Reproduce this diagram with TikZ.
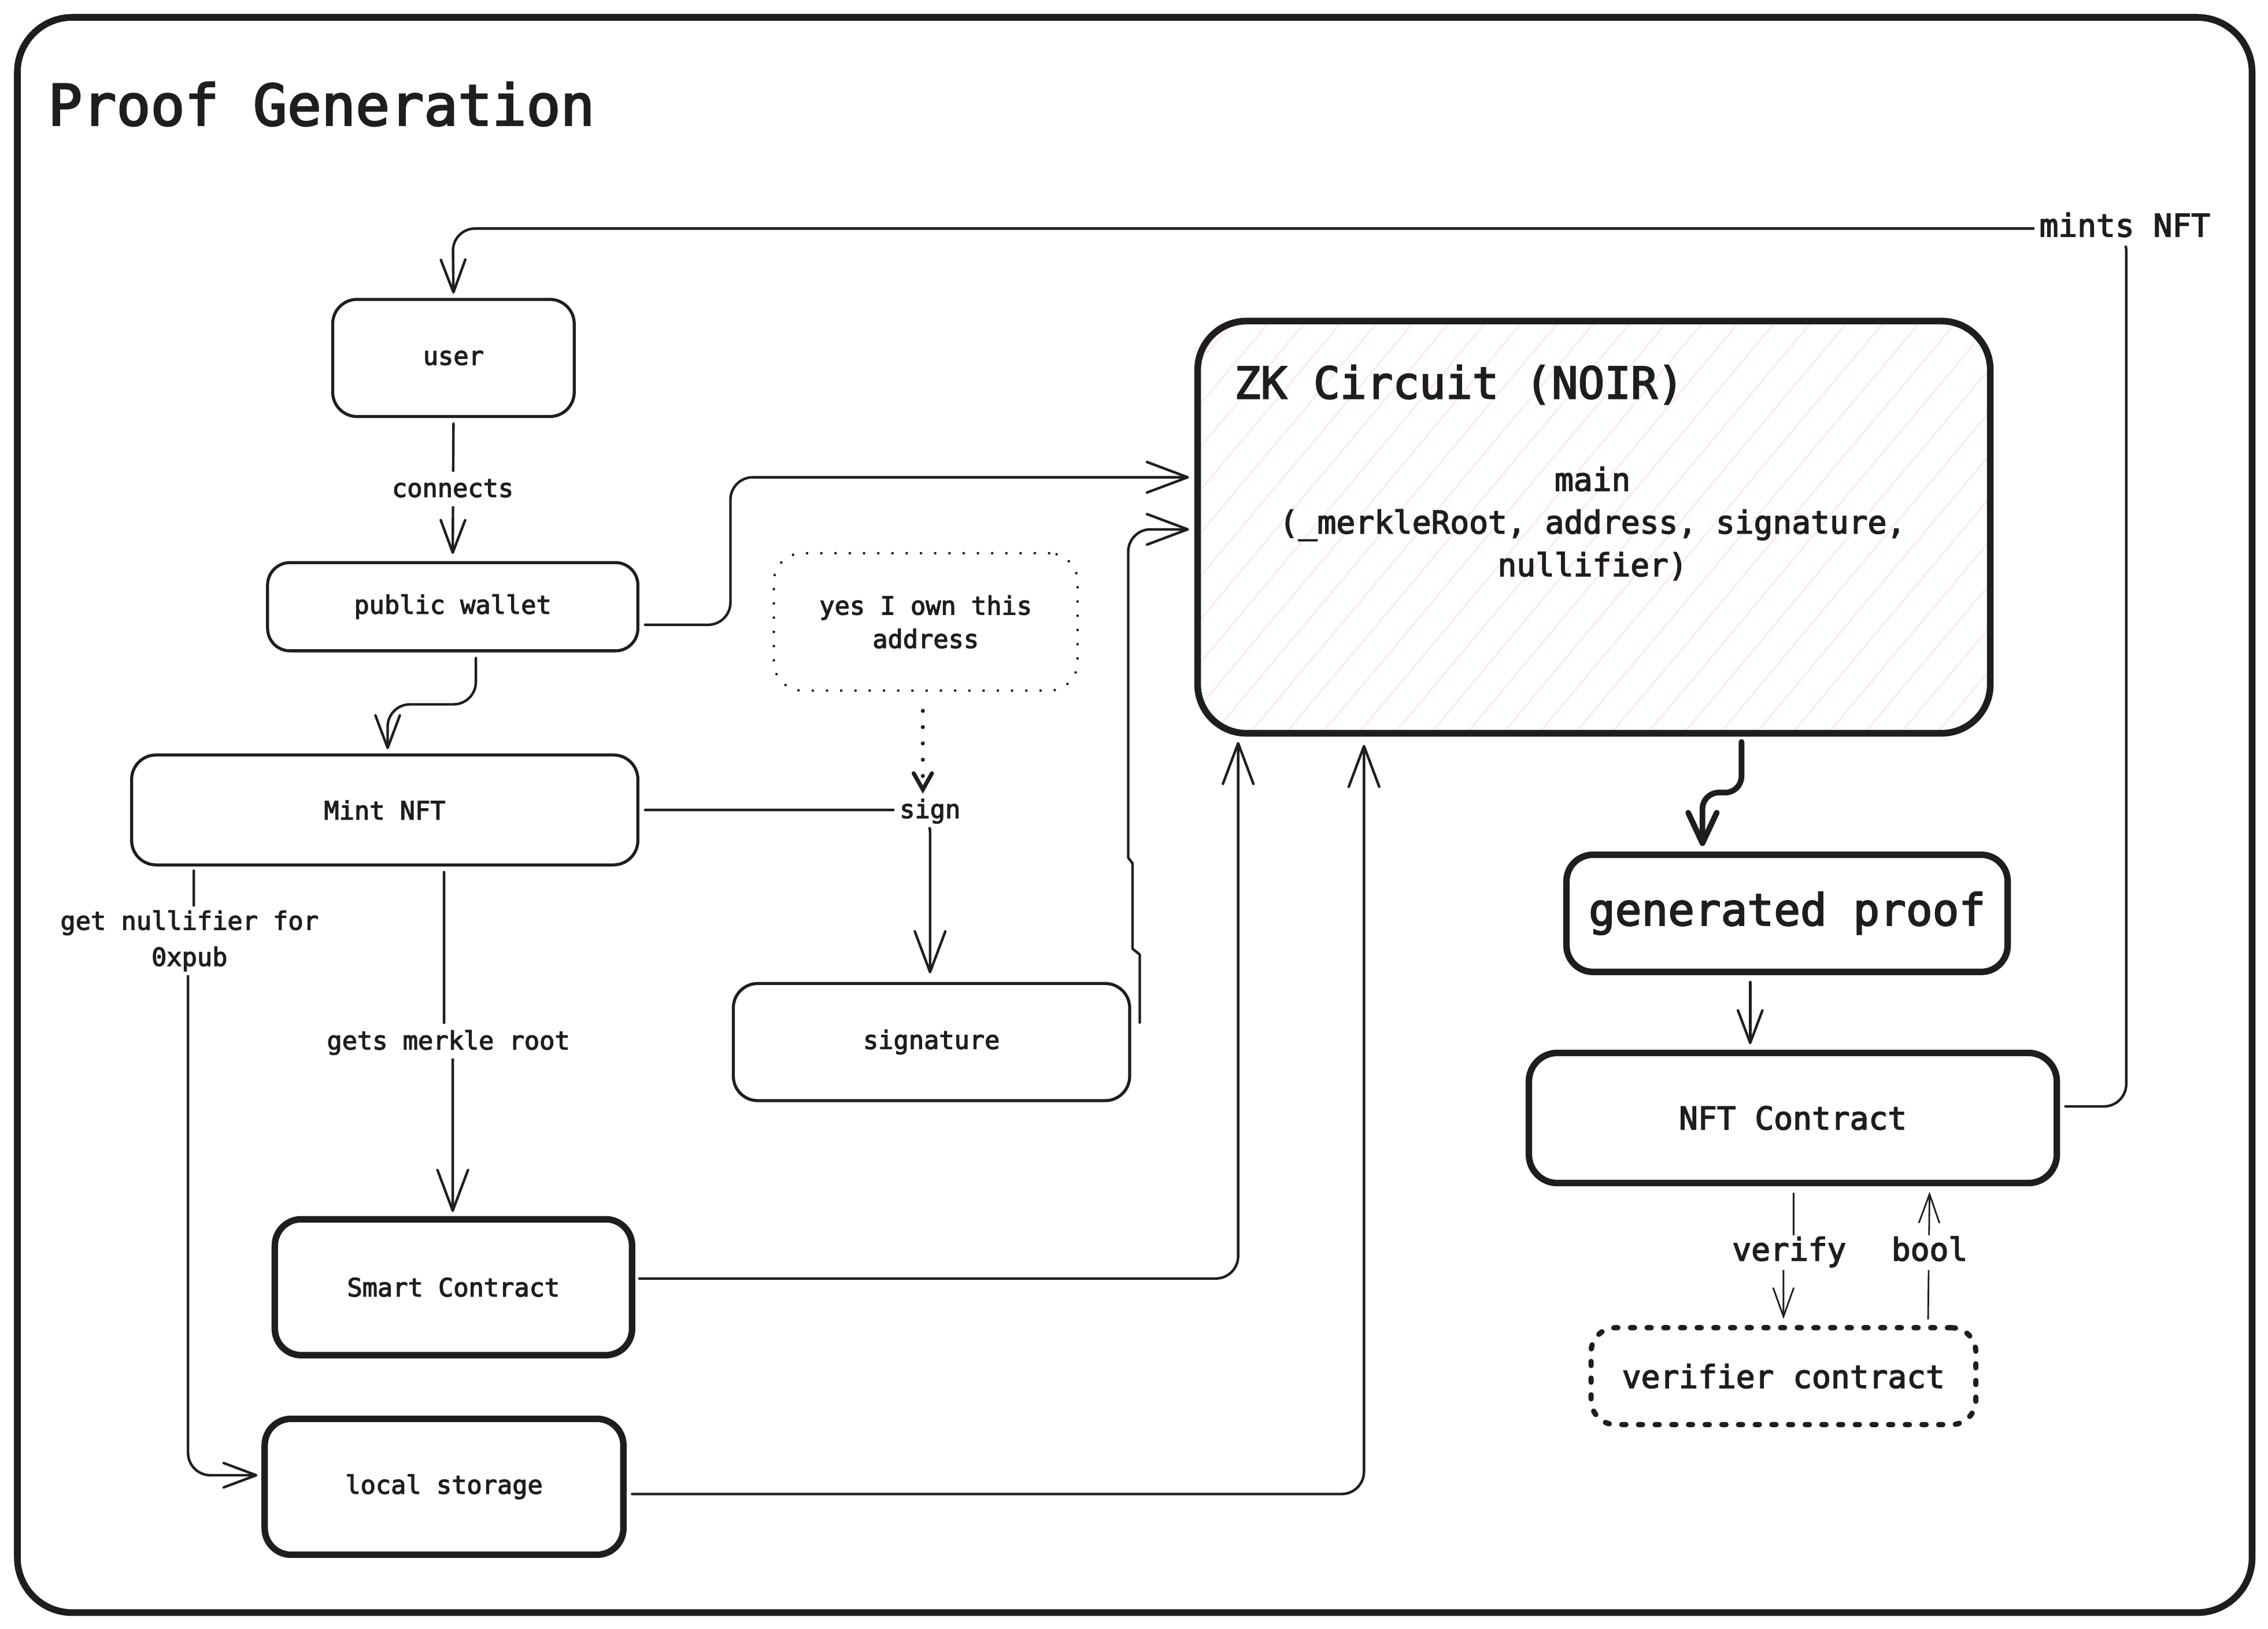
\documentclass[tikz,border=0pt]{standalone}
\usepackage{fontspec}
\newfontfamily\hand[RawFeature={embolden=3}]{DejaVu Sans Mono}
\usetikzlibrary{arrows.meta,calc}
\definecolor{ink}{HTML}{1E1E1E}
\definecolor{hatchc}{RGB}{255,232,232}
\newcommand\fS{\hand\fontsize{12.4pt}{16.4pt}\selectfont}
\newcommand\fM{\hand\fontsize{15.5pt}{21pt}\selectfont}
\newcommand\fL{\hand\fontsize{21.6pt}{26pt}\selectfont}
\newcommand\fXL{\hand\fontsize{27.9pt}{32pt}\selectfont}
\newcommand\W[1]{#1*0.025cm}
\begin{document}
\begin{tikzpicture}[x=0.025cm,y=-0.025cm,
  basebox/.style={rectangle, draw=ink, fill=white, text=ink, outer sep=0pt, inner sep=0pt, align=center},
  thinbox/.style={basebox, line width=1.5pt, rounded corners=12pt, font=\fS},
  boldbox/.style={basebox, line width=3.2pt, rounded corners=13pt, font=\fS},
  lbl/.style={fill=white, text=ink, inner sep=2.5pt, font=\fS, align=center, text height=1.0em, text depth=0.2em},
  conn/.style={draw=ink, line width=1.25pt, rounded corners=11pt, line cap=round, line join=round,
    -{Straight Barb[length=16pt,width=12pt,line cap=round,line join=round]}},
  bigtip/.style={-{Straight Barb[length=20pt,width=15pt,line cap=round,line join=round]}},
  boldconn/.style={draw=ink, line width=2.8pt, rounded corners=8pt, line cap=round, line join=round,
    -{Straight Barb[length=15pt,width=14pt,line cap=round,line join=round]}},
  fineconn/.style={draw=ink, line width=0.8pt, line cap=round,
    -{Straight Barb[length=14pt,width=10pt,line cap=round]}},
  dotconn/.style={draw=ink, line width=2pt, line cap=round, dash pattern=on 0pt off 8pt,
    -{Straight Barb[length=8pt,width=9pt,line cap=round]}},
]
% canvas
\fill[white] (0,0) rectangle (1568,1126);
\useasboundingbox (0,0) rectangle (1568,1126);
% frame
\draw[ink, line width=3.3pt, rounded corners=27pt] (12,12) rectangle (1557,1115);
\node[anchor=west, font=\fXL, text=ink, inner sep=0pt] (title) at (33,72) {Proof Generation};

% nodes
\node[thinbox, minimum width=\W{167}, minimum height=\W{81}] (user) at (313.5,247.5) {user};
\node[thinbox, minimum width=\W{256}, minimum height=\W{61}, rounded corners=11pt] (pw) at (313,419.5) {public wallet};
\node[thinbox, minimum width=\W{350}, minimum height=\W{76}] (mint) at (266,560) {Mint NFT};
\node[thinbox, minimum width=\W{210}, minimum height=\W{95}, line width=1.3pt, dash pattern=on 0pt off 7pt, line cap=round, rounded corners=14pt] (yes) at (640,430) {yes I own this\\address};
\node[thinbox, minimum width=\W{274}, minimum height=\W{81}] (sig) at (644,720.5) {signature};
\node[boldbox, minimum width=\W{247}, minimum height=\W{94}] (smart) at (313.5,890) {Smart Contract};
\node[boldbox, minimum width=\W{248}, minimum height=\W{94}] (local) at (307,1028) {local storage};

% ZK circuit
\node[rectangle, fill=white, outer sep=0pt, inner sep=0pt, minimum width=\W{548}, minimum height=\W{285}, rounded corners=24pt] (zk) at (1102,364.5) {};
\begin{scope}
  \clip[rounded corners=24pt] (zk.south west) rectangle (zk.north east);
  \foreach \i in {0,...,32} \draw[hatchc, line width=0.75pt] (589+\i*25,507) -- ++(239,-285);
\end{scope}
\draw[ink, line width=3.3pt, rounded corners=24pt] (zk.south west) rectangle (zk.north east);
\node[anchor=west, font=\fL, text=ink, inner sep=0pt] (zktitle) at (853,266) {ZK Circuit (NOIR)};
\node[font=\fM, text=ink, align=center, inner sep=0pt] (zkmain) at (1101,362) {main\\(\_merkleRoot, address, signature,\\nullifier)};

\node[boldbox, minimum width=\W{305}, minimum height=\W{81}, font=\fL] (gp) at (1235.5,631.5) {generated proof};
\node[boldbox, minimum width=\W{365}, minimum height=\W{90}, font=\fM, rounded corners=14pt] (nft) at (1239.5,773) {NFT Contract};
\node[boldbox, minimum width=\W{266}, minimum height=\W{67}, font=\fM, line width=2.6pt, line cap=round, dash pattern=on 2pt off 6.2pt, rounded corners=12pt] (ver) at (1233,951.5) {verifier contract};

% connectors
% NFT contract -> user (mints NFT)
\draw[conn] ($(nft.east |- 0,765)+(6,0)$) -- (1470,765) -- (1470,158) -- (313,158) -- ($(user.north)+(0,-4)$);
\node[lbl, font=\fM] (mintslbl) at (1469,158) {mints NFT};

% user -> public wallet
\draw[conn] ($(user.south)+(0,5)$) -- ($(pw.north)+(0,-6)$);
\node[lbl] (connlbl) at (313,338) {connects};

% public wallet -> ZK
\draw[conn, bigtip] ($(pw.east |- 0,432)+(5,0)$) -- (505,432) -- (505,330) -- ($(zk.west |- 0,330)+(-6,0)$);

% public wallet -> Mint NFT
\draw[conn] ($(329,0 |- pw.south)+(0,5)$) -- (329,487) -- (268,487) -- ($(268,0 |- mint.north)+(0,-4)$);

% Mint NFT -> signature (sign)
\draw[conn, bigtip] ($(mint.east)+(5,0)$) -- (643,560) -- ($(643,0 |- sig.north)+(0,-7)$);
\node[lbl] (signlbl) at (643,560) {sign};

% yes I own this address -> sign
\draw[dotconn] ($(638,0 |- yes.south)+(0,14)$) -- ($(638,0 |- signlbl.north)+(0,1)$);

% signature -> ZK
\draw[conn, bigtip, sharp corners] ($(sig.east |- 0,707)+(7,0)$) -- (788,660) -- (783,656) -- (783,597) -- (780,593) -- (780,560) [rounded corners=11pt] -- (780,366) -- ($(zk.west |- 0,366)+(-6,0)$);

% Smart contract -> ZK
\draw[conn, bigtip] ($(smart.east |- 0,884)+(5,0)$) -- (856,884) -- ($(856,0 |- zk.south)+(0,6)$);
% local storage -> ZK
\draw[conn, bigtip] ($(local.east |- 0,1033)+(6,0)$) -- (943,1033) -- ($(943,0 |- zk.south)+(0,8)$);

% Mint NFT -> local storage
\draw[conn, sharp corners] ($(134,0 |- mint.south)+(0,4)$) -- (134,632) -- (130,636) -- (130,700) [rounded corners=11pt] -- (130,1020) -- ($(local.west |- 0,1020)+(-5,0)$);
\node[lbl, inner sep=2pt, text height=, text depth=] (nulllbl) at (131,650.5) {get nullifier for\\[1.4pt]0xpub};

% Mint NFT -> Smart contract
\draw[conn, bigtip, sharp corners] ($(307,0 |- mint.south)+(0,5)$) -- (307,716) -- (313,724) -- ($(313,0 |- smart.north)+(0,-5)$);
\node[lbl] (merklelbl) at (310,720) {gets merkle root};

% ZK -> generated proof
\draw[boldconn] ($(1204,0 |- zk.south)+(0,6)$) -- (1204,548) -- (1177,548) -- ($(1177,0 |- gp.north)+(0,-6)$);

% generated proof -> NFT contract
\draw[conn] ($(1210,0 |- gp.south)+(0,7)$) -- ($(1210,0 |- nft.north)+(0,-6)$);

% NFT contract -> verifier (verify)
\draw[fineconn, sharp corners] ($(1240,0 |- nft.south)+(0,7)$) -- (1240,858) -- (1233,874) -- ($(1233,0 |- ver.north)+(0,-6)$);
\node[lbl, font=\fM] (verlbl) at (1237,866) {verify};
% verifier -> NFT contract (bool)
\draw[fineconn] ($(1333,0 |- ver.north)+(0,-6)$) -- ($(1334,0 |- nft.south)+(0,6)$);
\node[lbl, font=\fM] (boollbl) at (1334,866) {bool};
\end{tikzpicture}
\end{document}
